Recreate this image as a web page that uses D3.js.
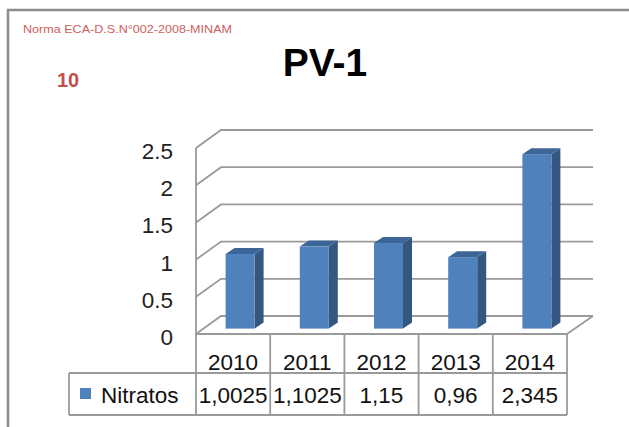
<!DOCTYPE html>
<html>
  <head>
    <meta charset="utf-8" />
    <title>PV-1</title>
    <script src="https://d3js.org/d3.v7.min.js"></script>
    <style>
      body { margin: 0; background: #fff; }
      svg { display: block; font-family: "Liberation Sans", Arial, sans-serif; }
    </style>
  </head>
  <body>
    <svg width="629" height="427"></svg>
    <script>
      // data
      const years = ["2010", "2011", "2012", "2013", "2014"];
      const nitratos = [1.0025, 1.1025, 1.15, 0.96, 2.345];
      const yTicks = [0, 0.5, 1, 1.5, 2, 2.5];
      const seriesName = "Nitratos";
      const normaText = "Norma ECA-D.S.N°002-2008-MINAM";
      const normaValue = "10";
      const title = "PV-1";

      const svg = d3.select("svg");
      const grid = "#9a9a9a";

      // frame
      svg.append("path")
        .attr("d", "M8,427 L8,10 L629,10")
        .attr("fill", "none").attr("stroke", "#8c8c8c").attr("stroke-width", 2.5);

      const defs = svg.append("defs");
      defs.append("filter").attr("id", "shadow")
        .attr("x", "-5%").attr("y", "-100%").attr("width", "110%").attr("height", "400%")
        .append("feDropShadow")
        .attr("dx", 0).attr("dy", 3).attr("stdDeviation", 1.8)
        .attr("flood-color", "#000").attr("flood-opacity", 0.35);

      svg.append("text").attr("x", 23).attr("y", 33)
        .attr("font-size", 11.5).attr("fill", "#d0605e")
        .attr("textLength", 209).attr("lengthAdjust", "spacingAndGlyphs")
        .text(normaText);

      svg.append("text").attr("x", 57).attr("y", 87)
        .attr("font-size", 20).attr("font-weight", "bold").attr("fill", "#c0504d")
        .text(normaValue);

      svg.append("text").attr("x", 325).attr("y", 76)
        .attr("text-anchor", "middle")
        .attr("font-size", 39).attr("font-weight", "bold").attr("fill", "#000")
        .text(title);

      svg.append("line")
        .attr("x1", 128).attr("x2", 616).attr("y1", 95).attr("y2", 95)
        .attr("stroke", "#c0504d").attr("stroke-width", 6.5)
        .attr("filter", "url(#shadow)");

      // 3D chart geometry
      const x0 = 196, x1 = 567;
      const depth = { dx: 25, dy: -18 };
      const x = d3.scaleBand().domain(years).range([x0, x1]);
      const y = d3.scaleLinear().domain([0, 2.5]).range([334, 148]);

      const g = svg.append("g");

      // side wall diagonals + back wall grid lines
      yTicks.forEach(t => {
        const yy = y(t);
        g.append("path")
          .attr("d", `M${x0},${yy} L${x0 + depth.dx},${yy + depth.dy} L${x1 + depth.dx + 1},${yy + depth.dy}`)
          .attr("fill", "none").attr("stroke", grid).attr("stroke-width", 1.8);
      });
      // side wall front edge
      g.append("line")
        .attr("x1", x0).attr("x2", x0).attr("y1", y(2.5)).attr("y2", 415)
        .attr("stroke", grid).attr("stroke-width", 1.8);
      // floor right diagonal
      g.append("line")
        .attr("x1", x1).attr("y1", y(0))
        .attr("x2", x1 + depth.dx + 1).attr("y2", y(0) + depth.dy)
        .attr("stroke", grid).attr("stroke-width", 1.8);

      // y axis labels
      const yAxis = g.append("g").attr("transform", "translate(173,0)")
        .call(d3.axisLeft(y).tickValues(yTicks).tickSize(0).tickPadding(0).tickFormat(d3.format("")));
      yAxis.select(".domain").remove();
      yAxis.selectAll("text")
        .attr("font-size", 22.5).attr("font-family", "Liberation Sans, Arial, sans-serif")
        .attr("fill", "#222").attr("dy", "0.38em")
        .attr("transform", "translate(0,2)");

      // bars
      const pos = 0.3;              // depth position of bar front face
      const bw = 29, bd = { dx: 9, dy: -6 };
      const bars = g.selectAll(".bar").data(years.map((yr, i) => ({ yr, v: nitratos[i] })))
        .enter().append("g").attr("class", "bar");
      const bx = d => x(d.yr) + x.bandwidth() / 2 - bw / 2 + depth.dx * pos - 0.5;
      const base = y(0) + depth.dy * pos;
      const barTop = d => base - (y(0) - y(d.v));
      bars.append("path") // side
        .attr("d", d => `M${bx(d) + bw},${barTop(d)} L${bx(d) + bw + bd.dx},${barTop(d) + bd.dy} L${bx(d) + bw + bd.dx},${base + bd.dy} L${bx(d) + bw},${base} Z`)
        .attr("fill", "#34577f");
      bars.append("path") // top
        .attr("d", d => `M${bx(d)},${barTop(d)} L${bx(d) + bd.dx},${barTop(d) + bd.dy} L${bx(d) + bw + bd.dx},${barTop(d) + bd.dy} L${bx(d) + bw},${barTop(d)} Z`)
        .attr("fill", "#3d6597");
      bars.append("rect") // front
        .attr("x", bx).attr("y", barTop)
        .attr("width", bw).attr("height", d => base - barTop(d))
        .attr("fill", "#4f81bd");

      // data table
      const r0 = 334, r1 = 373, r2 = 415, left = 69;
      const tbl = svg.append("g").attr("stroke", grid).attr("stroke-width", 1.8);
      tbl.append("line").attr("x1", x0).attr("x2", x1).attr("y1", r0).attr("y2", r0);
      tbl.append("line").attr("x1", left).attr("x2", x1).attr("y1", r1).attr("y2", r1);
      tbl.append("line").attr("x1", left).attr("x2", x1).attr("y1", r2).attr("y2", r2);
      tbl.append("line").attr("x1", left).attr("x2", left).attr("y1", r1).attr("y2", r2);
      years.forEach(yr => {
        const xe = x(yr) + x.bandwidth();
        tbl.append("line").attr("x1", xe).attr("x2", xe).attr("y1", r0).attr("y2", r2);
      });

      const txt = svg.append("g").attr("font-size", 22.5).attr("fill", "#111");
      years.forEach((yr, i) => {
        const cx = x(yr) + x.bandwidth() / 2;
        txt.append("text").attr("x", cx).attr("y", 370).attr("text-anchor", "middle").text(yr);
        txt.append("text").attr("x", cx).attr("y", 403).attr("text-anchor", "middle")
          .text(String(nitratos[i]).replace(".", ","));
      });
      svg.append("rect").attr("x", 80).attr("y", 388).attr("width", 11).attr("height", 11).attr("fill", "#4f81bd");
      txt.append("text").attr("x", 101).attr("y", 403).text(seriesName);
    </script>
  </body>
</html>
